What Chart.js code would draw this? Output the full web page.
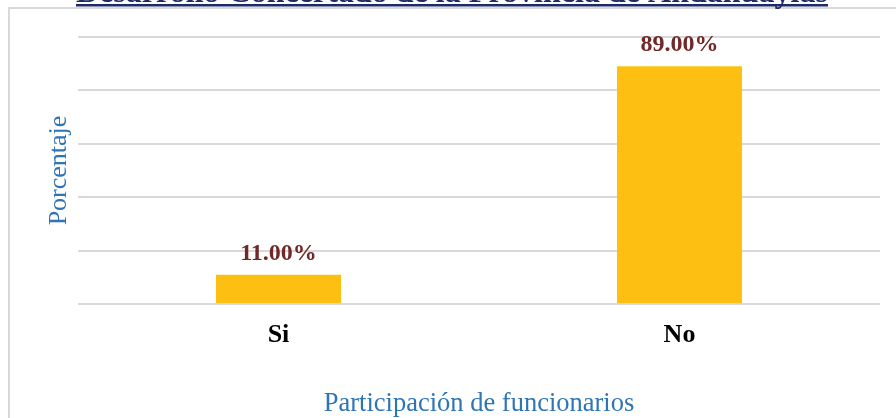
<!DOCTYPE html>
<html><head><meta charset="utf-8">
<script src="https://cdn.jsdelivr.net/npm/chart.js@4/dist/chart.umd.min.js"></script>
<style>html,body{margin:0;padding:0;background:#fff;overflow:hidden}canvas{display:block}</style>
</head><body>
<canvas id="c" width="896" height="418"></canvas>
<script>
const chartTitle = 'Desarrollo Concertado de la Provincia de Andahuaylas';
const categories = ['Si', 'No'];
const values = [11, 89];
const valueLabels = ['11.00%', '89.00%'];
const yTicks = [0, 20, 40, 60, 80, 100];
const xTitle = 'Participación de funcionarios';
const yTitle = 'Porcentaje';

const SERIF = '"Liberation Serif", "Times New Roman", serif';

const framePlugin = {
  id: 'frame',
  beforeDraw(chart) {
    const ctx = chart.ctx;
    ctx.save();
    ctx.fillStyle = '#ffffff';
    ctx.fillRect(0, 0, chart.width, chart.height);
    ctx.strokeStyle = '#d9d9d9';
    ctx.lineWidth = 2;
    ctx.beginPath();
    ctx.moveTo(9, chart.height + 2);
    ctx.lineTo(9, 8);
    ctx.lineTo(chart.width + 2, 8);
    ctx.stroke();
    ctx.fillStyle = '#1f2a68';
    const targetW = 752;
    ctx.font = 'bold 100px ' + SERIF;
    const w100 = ctx.measureText(chartTitle).width;
    const size = 100 * targetW / w100;
    ctx.font = 'bold ' + size.toFixed(2) + 'px ' + SERIF;
    ctx.textAlign = 'left';
    ctx.textBaseline = 'alphabetic';
    ctx.fillText(chartTitle, 76, 1.5);
    ctx.fillRect(76, 4, targetW, 2.5);
    ctx.restore();
  }
};

const labelPlugin = {
  id: 'valueLabels',
  afterDatasetsDraw(chart) {
    const ctx = chart.ctx;
    const meta = chart.getDatasetMeta(0);
    ctx.save();
    ctx.fillStyle = '#702828';
    ctx.font = 'bold 24px ' + SERIF;
    ctx.textAlign = 'center';
    ctx.textBaseline = 'alphabetic';
    meta.data.forEach((bar, i) => {
      ctx.fillText(valueLabels[i], bar.x, bar.y - 15);
    });
    ctx.restore();
  }
};

new Chart(document.getElementById('c'), {
  type: 'bar',
  data: {
    labels: categories,
    datasets: [{
      data: values,
      backgroundColor: '#fdc012',
      borderWidth: 0,
      barPercentage: 1,
      categoryPercentage: 0.312
    }]
  },
  options: {
    responsive: false,
    devicePixelRatio: 1,
    animation: false,
    layout: { padding: { left: 0, top: 37, right: 16, bottom: 0 } },
    plugins: { legend: { display: false }, tooltip: { enabled: false }, title: { display: false } },
    scales: {
      x: {
        grid: { display: false, drawTicks: false },
        border: { display: false },
        ticks: { color: '#000', font: { family: SERIF, size: 26, weight: 'bold' }, padding: 16 },
        title: { display: true, text: xTitle, color: '#2e75b6', font: { family: SERIF, size: 26.5 }, padding: { top: 0, bottom: -2 } },
        afterFit(s) { s.height = 114; }
      },
      y: {
        min: yTicks[0],
        max: yTicks[yTicks.length - 1],
        afterBuildTicks(s) { s.ticks = yTicks.map(v => ({ value: v })); },
        grid: { color: '#d9d9d9', lineWidth: 2, drawTicks: false },
        border: { display: false },
        ticks: { display: false },
        title: { display: true, text: yTitle, color: '#2e75b6', font: { family: SERIF, size: 26 }, padding: { top: 44, bottom: 0 } },
        afterFit(s) { s.width = 78; }
      }
    }
  },
  plugins: [framePlugin, labelPlugin]
});
</script>
</body></html>
